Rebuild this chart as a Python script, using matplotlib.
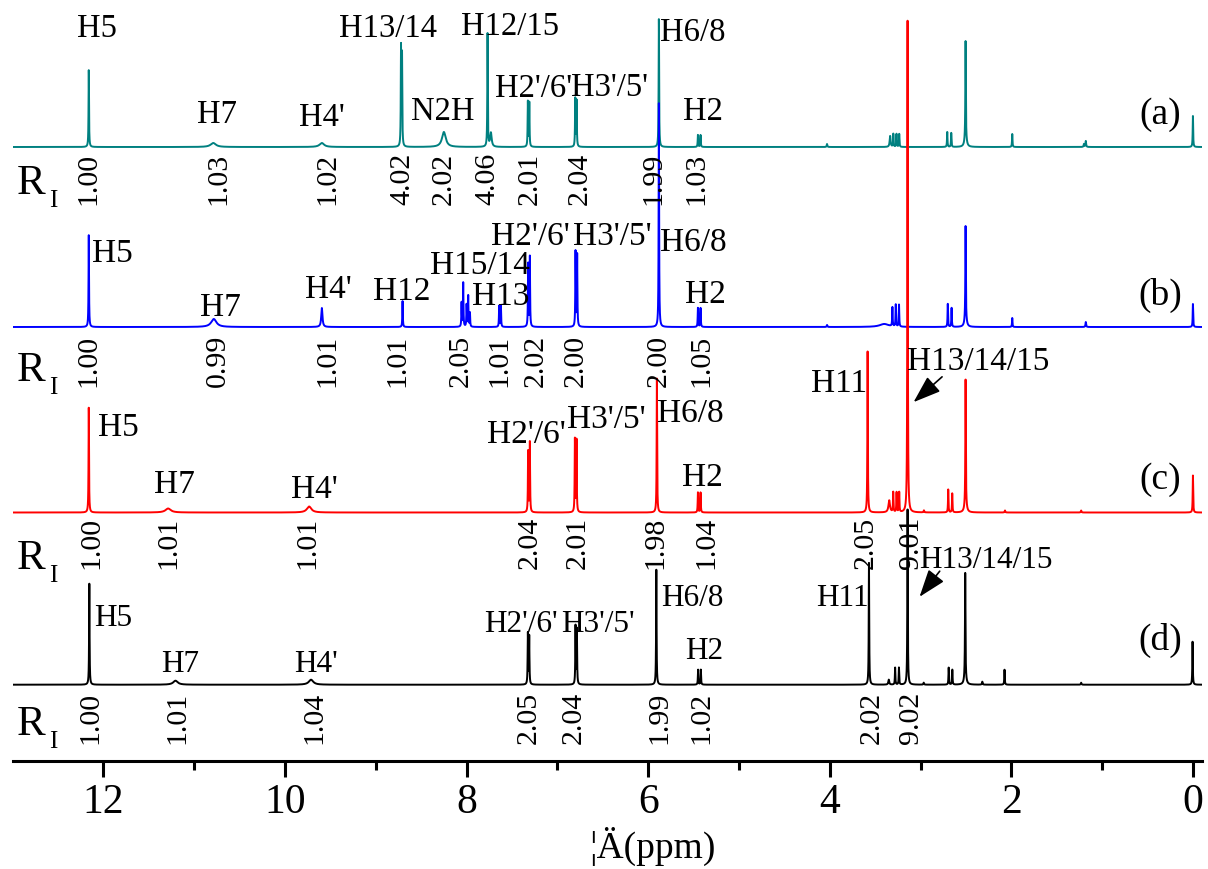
import numpy as np
import matplotlib.pyplot as plt

plt.rcParams['font.family'] = ['Liberation Serif', 'DejaVu Serif']

# ---- data ----
panel_names = ['(a)', '(b)', '(c)', '(d)']

# peak tables: position (ppm), height (arb. units), half width (ppm)
a_ppm = [12.161, 10.79, 9.594, 8.722, 8.711, 8.25, 7.769, 7.732, 7.325, 7.309, 6.803, 6.788,
         5.882, 5.452, 5.423, 4.03, 3.335, 3.300, 3.265, 3.235, 2.706, 2.662, 2.504, 2.504,
         1.99, 1.20, 1.18, 0.0]
a_h = [77, 4, 4, 98, 90, 15, 113, 14, 45, 44, 48, 46,
       128, 12, 12, 3, 11, 13, 13, 13, 15, 14, 97, 9,
       13, 3, 6, 31]
a_w = [0.003, 0.035, 0.03, 0.003, 0.003, 0.025, 0.003, 0.01, 0.003, 0.003, 0.003, 0.003,
       0.003, 0.003, 0.003, 0.004, 0.006, 0.003, 0.003, 0.003, 0.003, 0.003, 0.003, 0.012,
       0.003, 0.004, 0.004, 0.003]

b_ppm = [12.161, 10.784, 9.594, 8.705, 8.055, 8.037, 8.000, 7.982, 7.963, 7.641, 7.622,
         7.322, 7.303, 6.800, 6.782, 5.882, 5.452, 5.423, 4.03, 3.40, 3.310, 3.273, 3.237,
         2.700, 2.658, 2.504, 2.504, 1.99, 1.18, 0.0]
b_h = [92, 8, 19, 26, 24, 44, 22, 31, 14, 21, 21,
       63, 70, 75, 72, 224, 19, 19, 2, 3, 19, 22, 22,
       23, 19, 92, 9, 9, 5, 23]
b_w = [0.003, 0.035, 0.008, 0.003, 0.003, 0.003, 0.003, 0.003, 0.003, 0.003, 0.003,
       0.003, 0.003, 0.003, 0.003, 0.003, 0.003, 0.003, 0.004, 0.06, 0.003, 0.003, 0.003,
       0.003, 0.003, 0.003, 0.012, 0.003, 0.004, 0.003]

c_ppm = [12.161, 11.287, 9.734, 7.322, 7.303, 6.807, 6.789, 5.904, 5.452, 5.423, 3.583,
         3.345, 3.301, 3.264, 3.235, 3.143, 2.963, 2.695, 2.651, 2.504, 2.504, 2.07, 1.231, 0.0]
c_h = [105, 4, 6, 61, 70, 73, 72, 134, 20, 20, 161,
       12, 20, 20, 20, 494, 2, 23, 19, 124, 9, 2, 2, 37]
c_w = [0.003, 0.035, 0.03, 0.003, 0.003, 0.003, 0.003, 0.003, 0.003, 0.003, 0.003,
       0.01, 0.003, 0.003, 0.003, 0.003, 0.004, 0.003, 0.003, 0.003, 0.012, 0.004, 0.004, 0.003]

d_ppm = [12.155, 11.206, 9.713, 7.325, 7.310, 6.800, 6.785, 5.91, 5.45, 5.42, 3.568,
         3.35, 3.28, 3.238, 3.143, 2.965, 2.69, 2.65, 2.508, 2.508, 2.32, 2.075, 1.231, 0.004]
d_h = [101, 4, 5, 51, 48, 58, 55, 115, 15, 15, 122,
       5, 17, 17, 176, 2, 17, 15, 104, 8, 3, 15, 2, 43]
d_w = [0.003, 0.03, 0.03, 0.003, 0.003, 0.003, 0.003, 0.003, 0.003, 0.003, 0.003,
       0.006, 0.003, 0.003, 0.003, 0.004, 0.003, 0.003, 0.003, 0.012, 0.004, 0.003, 0.004, 0.003]

# peak assignments
a_lab = ['H5', 'H7', "H4'", 'H13/14', 'N2H', 'H12/15', "H2'/6'", "H3'/5'", 'H6/8', 'H2']
b_lab = ['H5', 'H7', "H4'", 'H12', 'H15/14', 'H13', "H2'/6'", "H3'/5'", 'H6/8', 'H2']
c_lab = ['H5', 'H7', "H4'", "H2'/6'", "H3'/5'", 'H6/8', 'H2', 'H11', 'H13/14/15']
d_lab = ['H5', 'H7', "H4'", "H2'/6'", "H3'/5'", 'H6/8', 'H2', 'H11', 'H13/14/15']

# relative integrals and where they sit (ppm)
a_int = ['1.00', '1.03', '1.02', '4.02', '2.02', '4.06', '2.01', '2.04', '1.99', '1.03']
a_int_ppm = [12.17, 10.734, 9.53, 8.707, 8.25, 7.766, 7.303, 6.754, 5.943, 5.469]
b_int = ['1.00', '0.99', '1.01', '1.01', '2.05', '1.01', '2.02', '2.00', '2.00', '1.05']
b_int_ppm = [12.16, 10.734, 9.534, 8.763, 8.063, 7.644, 7.237, 6.796, 5.882, 5.419]
c_int = ['1.00', '1.01', '1.01', '2.04', '2.01', '1.98', '1.04', '2.05', '9.01']
c_int_ppm = [12.13, 11.28, 9.754, 7.30, 6.774, 5.915, 5.364, 3.602, 3.106]
d_int = ['1.00', '1.01', '1.04', '2.05', '2.04', '1.99', '1.02', '2.02', '9.02']
d_int_ppm = [12.144, 11.19, 9.68, 7.314, 6.818, 5.871, 5.414, 3.54, 3.106]

# ---- layout ----
colors = ['#008080', '#0000ff', '#ff0000', '#000000']
baselines = [614, 434, 248.5, 76.3]
int_top = [609, 427, 245, 70]
r_base = [568, 381, 193, 27]
letter_y = [647, 467, 282, 122]
lab_size = [23.5, 24, 24, 22.5]

a_lab_pos = [(12.076, 733), (10.745, 647), (9.589, 644), (8.867, 733), (8.261, 650),
             (7.523, 735), (7.259, 673), (6.422, 674), (5.507, 729), (5.397, 650)]
b_lab_pos = [(11.896, 508), (10.707, 454), (9.517, 472), (8.713, 470), (7.854, 496),
             (7.622, 465), (7.292, 525), (6.40, 525), (5.507, 519), (5.364, 467)]
c_lab_pos = [(11.83, 334), (11.213, 277), (9.671, 272), (7.336, 327), (6.466, 342),
             (5.54, 348), (5.397, 284), (3.899, 378), (2.368, 400)]
d_lab_pos = [(11.896, 143), (11.158, 97), (9.66, 97), (7.402, 137), (6.554, 137),
             (5.518, 164), (5.386, 110), (3.855, 164), (2.28, 202)]

# arrows pointing at the tert-butyl peak in (c) and (d)
arrows = [((2.74, 386), (3.10, 357)), ((2.77, 192), (3.03, 162))]

peaks = [(a_ppm, a_h, a_w), (b_ppm, b_h, b_w), (c_ppm, c_h, c_w), (d_ppm, d_h, d_w)]
labels = [(a_lab, a_lab_pos), (b_lab, b_lab_pos), (c_lab, c_lab_pos), (d_lab, d_lab_pos)]
integrals = [(a_int, a_int_ppm), (b_int, b_int_ppm), (c_int, c_int_ppm), (d_int, d_int_ppm)]

x = np.linspace(13.0, -0.1, 30000)


def spectrum(ppm, h, w):
    """Sum of Lorentzian lines."""
    y = np.zeros_like(x)
    for p, hh, ww in zip(ppm, h, w):
        y += hh / (1 + ((x - p) / ww) ** 2)
    return y


fig = plt.figure(figsize=(12.08, 8.7), dpi=100)
ax = fig.add_axes([12.6 / 1208, 108 / 870, 1189.4 / 1208, 762 / 870])

for i in range(4):
    ppm, h, w = peaks[i]
    ax.plot(x, baselines[i] + spectrum(ppm, h, w), color=colors[i], lw=1.4, zorder=2 + i)

    names, pos = labels[i]
    for name, (px, py) in zip(names, pos):
        ax.text(px, py, name, ha='center', va='center', fontsize=lab_size[i], zorder=10)

    vals, vppm = integrals[i]
    for v, p in zip(vals, vppm):
        ax.text(p, int_top[i], v, rotation=90, ha='center', va='top', fontsize=21.5, zorder=10)

    # R with subscript I
    ax.text(12.95, r_base[i], 'R', fontsize=31, ha='left', va='baseline')
    ax.text(12.60, r_base[i] - 13, 'I', fontsize=18, ha='left', va='baseline')
    ax.text(0.363, letter_y[i], panel_names[i], fontsize=27, ha='center', va='center')

for start, end in arrows:
    ax.annotate('', xy=end, xytext=start,
                arrowprops=dict(arrowstyle='-|>,head_length=0.85,head_width=0.3',
                                mutation_scale=20, color='black', lw=1.2))

ax.set_xlim(13.0, -0.1)
ax.set_ylim(0, 762)
for s in ['left', 'right', 'top']:
    ax.spines[s].set_visible(False)
ax.spines['bottom'].set_linewidth(2.2)
ax.set_yticks([])
ax.set_xticks(np.arange(0, 13, 2))
ax.set_xticks(np.arange(1, 13, 2), minor=True)
ax.tick_params(axis='x', which='major', direction='out', length=11.5, width=2.2,
               labelsize=30, pad=4)
ax.tick_params(axis='x', which='minor', direction='out', length=6.5, width=2.2)

fig.text(652 / 1208, 24 / 870, '¦Ä(ppm)', fontsize=27, ha='center', va='center')

fig.savefig('out.png', dpi=100, facecolor='white')
